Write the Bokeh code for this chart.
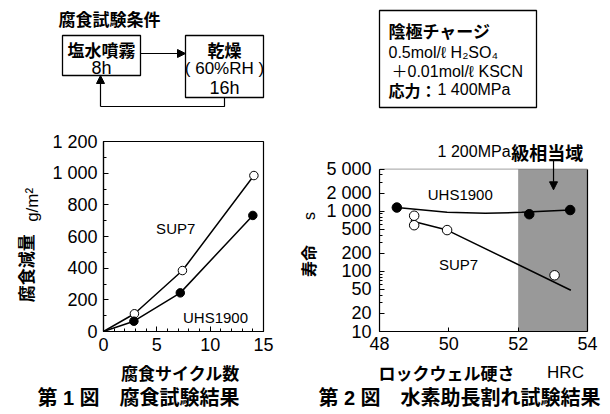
import math
from bokeh.plotting import figure
from bokeh.models import (Label, Arrow, NormalHead, BoxAnnotation, FixedTicker, Range1d, LogAxis)
from bokeh.layouts import column, row
from bokeh.core.properties import value
from bokeh.embed import file_html
from bokeh.resources import INLINE

# ---------------- data ----------------
# Fig.1 corrosion test
origin_x = [0]
origin_y = [0]
cycles_sup7 = [2.9, 7.4, 14.1]
loss_sup7 = [112, 385, 985]
cycles_uhs = [2.85, 7.2, 14.0]
loss_uhs = [65, 244, 733]
f1_xticks = [0, 5, 10, 15]
f1_yticks = [0, 200, 400, 600, 800, 1000, 1200]
f1_ylabels = {1000: "1 000", 1200: "1 200"}

# Fig.2 hydrogen embrittlement test
hrc_uhs = [48.5, 52.32, 53.5]
life_uhs = [1150, 890, 1045]
hrc_sup7 = [49.0, 49.0, 49.95, 53.05]
life_sup7 = [840, 585, 485, 86]
fit_uhs_x = [48.5, 49.95, 51.05, 52.1, 53.5]
fit_uhs_y = [1150, 957, 922, 957, 1045]
fit_sup7_x = [48.9, 49.95, 53.52]
fit_sup7_y = [695, 485, 48.5]
f2_xticks = [48, 50, 52, 54]
f2_yticks = [10, 20, 50, 100, 200, 500, 1000, 2000, 5000]
f2_ylabels = {1000: "1 000", 2000: "2 000", 5000: "5 000"}
f2_minor = [m * d for d in (10, 100, 1000) for m in range(1, 10) if m * d <= 5000]
f2_xlim = (48, 54)
f2_ylim = (10, 5000)
shade_range = (52, 54)

LAT = "Liberation Sans"
JP = "Noto Sans CJK JP"
MIX = "Liberation Sans, Noto Sans CJK JP"


def canvas(w, h, x0, x1, y0, y1):
    """A plain figure whose data coordinates are page pixels (y downward)."""
    f = figure(width=w, height=h, x_range=Range1d(x0, x1), y_range=Range1d(y1, y0),
               x_axis_type=None, y_axis_type=None, output_backend="svg",
               toolbar_location=None, min_border=0, title=None)
    f.grid.visible = False
    f.outline_line_color = None
    f.background_fill_color = "white"
    f.border_fill_color = "white"
    return f


def txt(fig, x, y, s, size, font=MIX, bold=False, align="center", angle=0.0):
    fig.text(x=[x], y=[y], text=[s], text_font=value(font), text_font_size=size,
             text_font_style="bold" if bold else "normal", text_align=align,
             text_baseline="middle", text_color="black", angle=angle)


def head():
    return NormalHead(size=8, fill_color="black", line_color="black", line_width=1)


# ---------------- top diagram ----------------
top = canvas(610, 120, 0, 610, 0, 120)
txt(top, 58, 18, "腐食試験条件", "17px", JP, True, "left")
top.quad(left=[62, 185], right=[140, 263], top=[35, 35], bottom=[75, 97],
         fill_color=None, line_color="black", line_width=1.3)
txt(top, 101, 49, "塩水噴霧", "17px", JP, True)
txt(top, 101, 67, "8h", "18px", LAT)
txt(top, 224, 49, "乾燥", "17px", JP, True)
txt(top, 224, 68, "( 60%RH )", "17px", LAT)
txt(top, 224, 87, "16h", "18px", LAT)
top.add_layout(Arrow(end=head(), x_start=140, y_start=53, x_end=185, y_end=53, line_width=1.2))
top.line(x=[224, 224, 100], y=[97, 106, 106], line_color="black", line_width=1.2)
top.add_layout(Arrow(end=head(), x_start=100, y_start=106, x_end=100, y_end=75, line_width=1.2))

top.quad(left=[379], right=[536], top=[10], bottom=[107],
         fill_color=None, line_color="black", line_width=1.3)
txt(top, 388, 30, "陰極チャージ", "17px", JP, True, "left")
txt(top, 388, 52, "0.5mol/ℓ  H₂SO₄", "16px", MIX, False, "left")
txt(top, 391, 71, "＋0.01mol/ℓ  KSCN", "16px", MIX, False, "left")
txt(top, 388, 89, "応力：", "16px", JP, True, "left")
txt(top, 437, 89, "1 400MPa", "16px", LAT, False, "left")


# ---------------- axis styling ----------------
def style_axes(p):
    p.background_fill_color = "white"
    p.border_fill_color = "white"
    p.grid.visible = False
    for ax in list(p.xaxis) + list(p.yaxis):
        ax.major_tick_in = 5
        ax.major_tick_out = 0
        ax.minor_tick_in = 3
        ax.minor_tick_out = 0
        ax.axis_line_color = "black"
        ax.axis_line_width = 1.2
        ax.major_tick_line_color = "black"
        ax.minor_tick_line_color = "black"
        ax.major_label_text_font = LAT
        ax.major_label_text_font_size = "18px"
        ax.major_label_text_color = "black"
        ax.major_label_standoff = 6


# ---------------- Fig.1 ----------------
p1 = figure(width=251, height=240, x_range=Range1d(0, 15), y_range=Range1d(0, 1200),
            min_border_left=61, min_border_right=30, min_border_top=21, min_border_bottom=29,
            output_backend="svg", toolbar_location=None, title=None)
style_axes(p1)
p1.outline_line_color = "black"
p1.outline_line_width = 1.2
p1.xaxis.ticker = FixedTicker(ticks=f1_xticks, minor_ticks=list(range(0, 16)))
p1.yaxis.ticker = FixedTicker(ticks=f1_yticks, minor_ticks=list(range(0, 1201, 100)))
p1.yaxis.major_label_overrides = f1_ylabels

p1.line(x=origin_x + cycles_sup7, y=origin_y + loss_sup7, line_color="black", line_width=1.5)
p1.line(x=origin_x + cycles_uhs, y=origin_y + loss_uhs, line_color="black", line_width=1.5)
p1.scatter(x=cycles_sup7, y=loss_sup7, size=8.5, marker="circle", fill_color="white",
           line_color="black", line_width=1)
p1.scatter(x=cycles_uhs, y=loss_uhs, size=8.5, marker="circle", fill_color="black",
           line_color="black", line_width=1)
txt(p1, 6.77, 648, "SUP7", "15px", LAT)
txt(p1, 10.5, 90, "UHS1900", "15px", LAT)

# ---------------- Fig.2 ----------------
# frame extended above 5 000 so the region label and arrow sit inside it
y_top = 14400
p2 = figure(width=290, height=240, x_range=Range1d(*f2_xlim), y_range=Range1d(f2_ylim[0], y_top),
            y_axis_type="log",
            min_border_left=59, min_border_right=23, min_border_top=18, min_border_bottom=26,
            output_backend="svg", toolbar_location=None, title=None)
style_axes(p2)
p2.outline_line_color = None
p2.xaxis.ticker = FixedTicker(ticks=f2_xticks, minor_ticks=[])
p2.xaxis.major_tick_in = 4
p2.xaxis.major_label_standoff = 5
p2.yaxis.ticker = FixedTicker(ticks=f2_yticks, minor_ticks=f2_minor)
p2.yaxis.major_label_overrides = f2_ylabels
p2.yaxis.major_label_standoff = 8
p2.yaxis.bounds = f2_ylim
rax = LogAxis(ticker=FixedTicker(ticks=[], minor_ticks=[]), bounds=f2_ylim,
              major_tick_in=0, major_tick_out=0, minor_tick_in=0, minor_tick_out=0,
              axis_line_color="black", axis_line_width=1.2, major_label_standoff=0)
p2.add_layout(rax, "right")

p2.add_layout(BoxAnnotation(left=shade_range[0], right=shade_range[1], top=f2_ylim[1],
                            fill_color="#999999", fill_alpha=1, line_color=None,
                            level="underlay"))
p2.add_layout(BoxAnnotation(left=f2_xlim[0], right=f2_xlim[1], top=f2_ylim[1], bottom=f2_ylim[0],
                            fill_color=None, fill_alpha=0, line_color="black", line_width=1.2))
p2.line(x=fit_uhs_x, y=fit_uhs_y, line_color="black", line_width=1.5)
p2.line(x=fit_sup7_x, y=fit_sup7_y, line_color="black", line_width=1.5)
p2.scatter(x=hrc_uhs, y=life_uhs, size=9.5, marker="circle", fill_color="black",
           line_color="black", line_width=1)
p2.scatter(x=hrc_sup7, y=life_sup7, size=9.5, marker="circle", fill_color="white",
           line_color="black", line_width=1)
txt(p2, 50.33, 1870, "UHS1900", "15px", LAT)
txt(p2, 50.28, 130, "SUP7", "15px", LAT)
p2.add_layout(Label(x=51.78, y=9640, text="1 200MPa", text_font=LAT, text_font_size="16px",
                    text_align="right", text_baseline="middle", text_color="black"))
p2.add_layout(Label(x=51.80, y=9640, text="級相当域", text_font=JP, text_font_size="18px",
                    text_font_style="bold", text_align="left", text_baseline="middle",
                    text_color="black"))
p2.add_layout(Arrow(end=head(), x_start=53.02, y_start=7160, x_end=53.02, y_end=2265,
                    line_width=1.2))

# ---------------- side strips with axis titles ----------------
lab1 = canvas(42, 240, 0, 42, 120, 360)
txt(lab1, 32, 200, "g/m²", "17px", LAT, False, "center", math.pi / 2)
txt(lab1, 25, 280, "腐食減量", "17px", JP, True, "center", math.pi / 2)

lab2 = canvas(27, 240, 293, 320, 120, 360)
txt(lab2, 309, 214, "s", "16px", LAT, False, "center", math.pi / 2)
txt(lab2, 307, 271, "寿命", "16px", JP, True, "center", math.pi / 2)

bottom = canvas(610, 54, 0, 610, 360, 414)
txt(bottom, 180, 372, "腐食サイクル数", "17px", JP, True)
txt(bottom, 446, 372, "ロックウェル硬さ", "17px", JP, True)
txt(bottom, 565, 372, "HRC", "17px", LAT)
txt(bottom, 138, 397, "第 1 図　腐食試験結果", "20px", MIX, True)
txt(bottom, 459, 397, "第 2 図　水素助長割れ試験結果", "20px", MIX, True)

layout = column(top, row(lab1, p1, lab2, p2), bottom)
open("out.html", "w").write(file_html(layout, INLINE))
